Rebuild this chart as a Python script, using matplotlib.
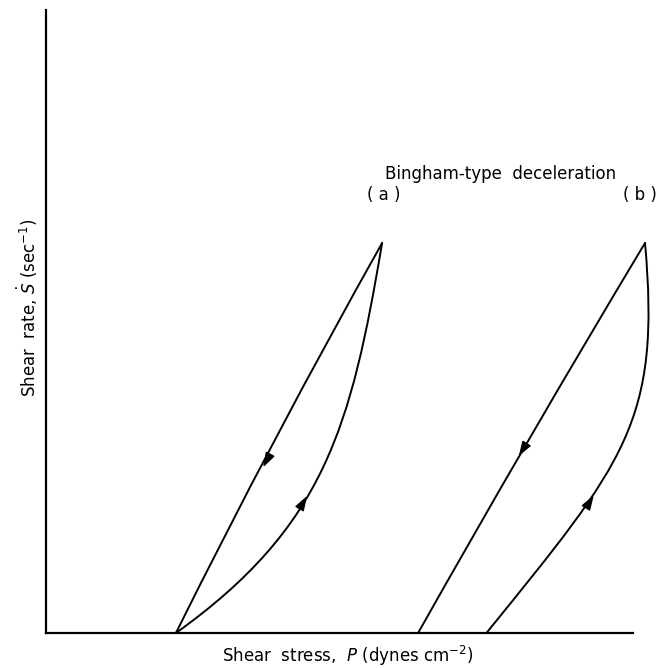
import matplotlib
matplotlib.use("Agg")
import matplotlib.pyplot as plt
from matplotlib.path import Path
from matplotlib.patches import PathPatch

# Shear stress P (arbitrary units) and shear rate S-dot (arbitrary units).
# Each branch is a Bezier segment: start point, control point(s), end point.
# Loop (a)
a_down_p = [5.51, 3.74, 2.13]           # apex -> yield stress, decreasing stress
a_down_s = [6.26, 3.18, 0.00]
a_up_p = [2.13, 4.57, 5.00, 5.51]       # yield stress -> apex, increasing stress
a_up_s = [0.00, 1.71, 3.30, 6.26]

# Loop (b)
b_down_p = [9.82, 7.90, 6.10]
b_down_s = [6.26, 3.13, 0.00]
b_up_p = [7.22, 9.50, 10.08, 9.82]
b_up_s = [0.00, 2.75, 3.40, 6.26]

# Direction arrows: (tail point, tip point)
arrows = [
    ((3.62, 2.77), (3.56, 2.66)),   # (a) descending
    ((4.22, 2.10), (4.28, 2.20)),   # (a) ascending
    ((7.82, 2.95), (7.75, 2.84)),   # (b) descending
    ((8.91, 2.10), (8.98, 2.21)),   # (b) ascending
]

loop_labels = ["( a )", "( b )"]
loop_label_pos = [(5.54, 7.03), (9.74, 7.03)]
title_text = "Bingham-type  deceleration"

fig = plt.figure(figsize=(6.56, 6.68), dpi=100)
ax = fig.add_axes([46 / 656, (668 - 633) / 668, (656 - 46) / 656, (633 - 10) / 668])
ax.set_xlim(0, 10)
ax.set_ylim(0, 10)

for side in ("top", "right"):
    ax.spines[side].set_visible(False)
ax.spines["left"].set_linewidth(1.6)
ax.spines["bottom"].set_linewidth(1.6)
ax.spines["bottom"].set_bounds(0, 9.62)
ax.set_xticks([])
ax.set_yticks([])

lw = 1.4
codes3 = [Path.MOVETO, Path.CURVE3, Path.CURVE3]
codes4 = [Path.MOVETO, Path.CURVE4, Path.CURVE4, Path.CURVE4]
for px, sy in [(a_down_p, a_down_s), (a_up_p, a_up_s),
               (b_down_p, b_down_s), (b_up_p, b_up_s)]:
    codes = codes3 if len(px) == 3 else codes4
    path = Path(list(zip(px, sy)), codes)
    ax.add_patch(PathPatch(path, facecolor="none", edgecolor="black", lw=lw,
                           capstyle="round", joinstyle="round", clip_on=False))

for tail, tip in arrows:
    ax.annotate("", xy=tip, xytext=tail,
                arrowprops=dict(arrowstyle="-|>,head_length=0.9,head_width=0.3",
                                color="black", lw=1.0, shrinkA=0, shrinkB=0,
                                mutation_scale=10))

for lab, (x, y) in zip(loop_labels, loop_label_pos):
    ax.text(x, y, lab, ha="center", va="center", fontsize=12,
            family="DejaVu Sans")

ax.text(5.56, 7.37, title_text, ha="left", va="center", fontsize=12,
        family="DejaVu Sans")

fig.text(348 / 656, 1 - 656 / 668,
         r"Shear  stress,  $\mathit{P}$ (dynes cm$^{-2}$)",
         ha="center", va="center", fontsize=12)
fig.text(27 / 656, 1 - 308 / 668,
         r"Shear  rate, $\dot{S}$ (sec$^{-1}$)",
         ha="center", va="center", rotation=90, fontsize=12)

fig.savefig("out.png", dpi=100, facecolor="white")
